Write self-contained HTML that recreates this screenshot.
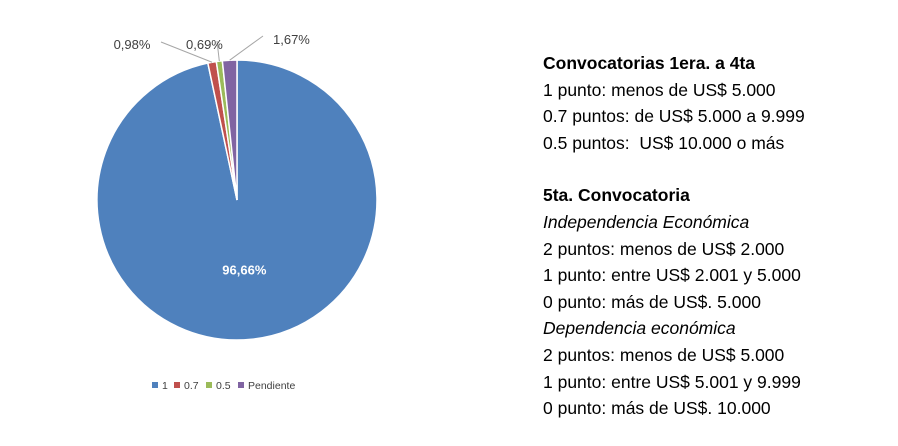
<!DOCTYPE html>
<html><head><meta charset="utf-8">
<style>
body{margin:0;background:#fff;width:898px;height:446px;overflow:hidden;font-family:"Liberation Sans",sans-serif;}
#notes{position:absolute;left:543px;top:50px;font-size:17.5px;color:#000;line-height:26.6px;}
#notes div{white-space:pre;height:26.6px}
b{font-weight:bold}
</style></head><body>
<svg id="chart" width="898" height="446" style="position:absolute;left:0;top:0"></svg>
<div id="notes">
<div><b>Convocatorias 1era. a 4ta</b></div>
<div>1 punto: menos de US$ 5.000</div>
<div>0.7 puntos: de US$ 5.000 a 9.999</div>
<div>0.5 puntos:  US$ 10.000 o más</div>
<div style="height:26px"></div>
<div><b>5ta. Convocatoria</b></div>
<div><i>Independencia Económica</i></div>
<div>2 puntos: menos de US$ 2.000</div>
<div>1 punto: entre US$ 2.001 y 5.000</div>
<div>0 punto: más de US$. 5.000</div>
<div><i>Dependencia económica</i></div>
<div>2 puntos: menos de US$ 5.000</div>
<div>1 punto: entre US$ 5.001 y 9.999</div>
<div>0 punto: más de US$. 10.000</div>
</div>
<script>
const categories=["1","0.7","0.5","Pendiente"];
const values=[96.66,0.98,0.69,1.67];
const labels=["96,66%","0,98%","0,69%","1,67%"];
const colors=["#4f81bd","#c0504d","#9bbb59","#8064a2"];
const svg=document.getElementById('chart');
const NS="http://www.w3.org/2000/svg";
const cx=237,cy=200,r=140;
function mk(t,a){const e=document.createElementNS(NS,t);for(const k in a)e.setAttribute(k,a[k]);svg.appendChild(e);return e;}
const total=values.reduce((a,b)=>a+b,0);
function pt(ang,rr){return [cx+rr*Math.sin(ang),cy-rr*Math.cos(ang)];}
let a0=0;
const outerLabelPos=[null,[125,45],[207,45],[273,40]];
values.forEach((v,i)=>{
  const a1=a0+v/total*2*Math.PI;
  const p0=pt(a0,r),p1=pt(a1,r);
  const large=(a1-a0)>Math.PI?1:0;
  const s=mk('path',{d:`M${cx},${cy} L${p0[0]},${p0[1]} A${r},${r} 0 ${large} 1 ${p1[0]},${p1[1]} Z`,fill:colors[i],stroke:'#fff','stroke-width':1.5});
  
  
  const mid=(a0+a1)/2;
  if(i===0){
    const lp=pt(mid,r*0.5);
    const t=mk('text',{x:lp[0],y:lp[1]+5,'text-anchor':'middle','font-size':13,'font-weight':'bold',fill:'#fff'});
    t.textContent=labels[i];
    
    
  }else{
    const ep=pt(mid,r);
    const lp=outerLabelPos[i];
    const ln=mk('polyline',{points:`${ep[0]},${ep[1]} ${lp[0]+(i===1?36:i===3?-10:10)},${lp[1]-4+(i===1?1:0)}`,fill:'none',stroke:'#a6a6a6','stroke-width':1});
    
    
    const t=mk('text',{x:lp[0]-(i===1?1:0),y:lp[1]+4,'text-anchor':i===1?'middle':'start','font-size':13,fill:'#404040'});
    if(i===1)t.setAttribute('x',lp[0]+7);
    if(i===2)t.setAttribute('x',lp[0]-21);
    t.textContent=labels[i];
    
    
  }
  a0=a1;
});
// legend
let lx=152;
const lw=[22,32,32,70];
categories.forEach((c,i)=>{
  const rc=mk('rect',{x:lx,y:382,width:6,height:6,fill:colors[i]});
  
  
  const t=mk('text',{x:lx+10,y:389,'font-size':10.5,fill:'#404040'});
  t.textContent=c;
  
  
  lx+=lw[i];
});
</script>
</body></html>
